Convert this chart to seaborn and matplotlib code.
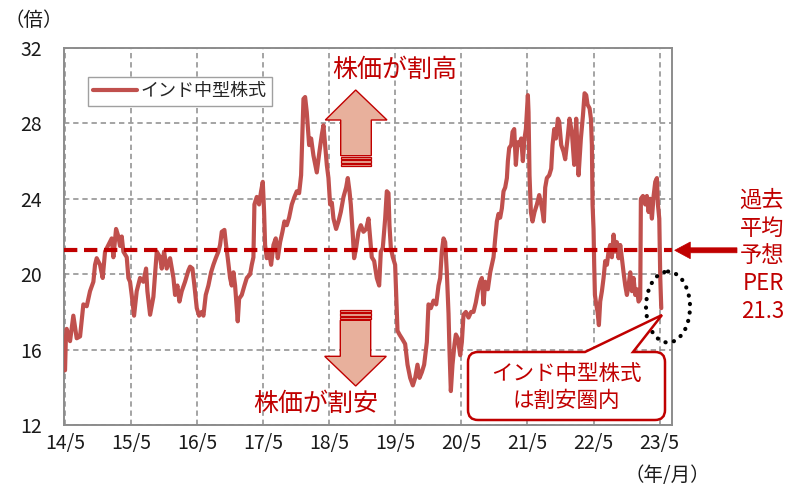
import matplotlib
matplotlib.use("Agg")
import matplotlib.pyplot as plt
import seaborn as sns
import pandas as pd
from matplotlib.patches import Polygon, Rectangle, Ellipse, PathPatch
from matplotlib.path import Path

# months elapsed since 2014/5, and forward PER (times)
months = [
    0.00, 0.15, 0.30, 0.91, 1.51, 2.12, 2.73, 3.33, 3.94, 4.54, 5.15, 5.45, 5.75, 6.36,
    6.84, 7.27, 7.87, 8.48, 8.78, 9.27, 9.69, 9.99, 10.30, 10.60, 11.21, 11.51, 11.81,
    12.11, 12.54, 13.02, 13.63, 14.23, 14.72, 14.96, 15.45, 16.05, 16.66, 17.26, 17.57,
    17.99, 18.47, 19.08, 19.69, 19.99, 20.41, 20.78, 21.20, 21.80, 22.41,
    22.71, 23.14, 23.50, 23.93, 24.35, 24.83, 25.14, 25.56, 26.04, 26.53, 26.95, 27.38,
    27.86, 28.16, 28.47, 28.95, 29.19, 29.56, 29.98, 30.28, 30.59, 30.89, 31.19, 31.37,
    31.62, 32.10, 32.59, 33.01, 33.62, 33.92, 34.22, 34.40, 34.83, 35.25, 35.61, 35.92,
    36.16, 36.34, 36.64, 37.07, 37.43, 37.86, 38.28, 38.64, 39.07, 39.49, 39.85, 40.28,
    40.70, 41.19, 41.67, 42.10, 42.52, 42.88, 43.13, 43.31, 43.61, 43.91, 44.34, 44.70,
    45.12,
    45.73, 46.21, 46.64, 46.94, 47.24, 47.55, 47.85, 48.15, 48.46, 48.76, 49.24, 49.67,
    50.09, 50.58, 51.06, 51.36, 51.67, 51.91, 52.27, 52.51, 52.88, 53.30, 53.73, 54.21,
    54.70, 55.12, 55.42, 55.72, 56.15, 56.63, 57.06, 57.36, 57.72, 58.15, 58.45, 58.75,
    58.93, 59.18, 59.54, 59.96, 60.15, 60.39, 60.75, 61.18, 61.78, 62.21, 62.69, 63.18,
    63.60, 64.02, 64.39, 64.81, 65.23, 65.72, 66.02, 66.45, 66.93, 67.42, 67.84,
    68.14, 68.44, 68.75, 69.05, 69.35, 69.66, 69.84, 70.08, 70.38, 70.75, 70.99, 71.35,
    71.78, 72.08, 72.38, 72.81, 73.29, 73.77, 74.20, 74.62, 74.99, 75.41, 75.71, 76.02,
    76.32, 76.80, 77.23, 77.53, 77.83, 78.14, 78.44, 78.74, 79.04, 79.35, 79.65, 79.95,
    80.26, 80.44, 80.68, 81.04, 81.29, 81.59, 81.89, 82.19, 82.50, 82.86, 83.16, 83.46,
    83.71, 83.89, 84.07, 84.19, 84.37, 84.62, 84.92, 85.28, 85.71, 86.13, 86.50, 86.74,
    86.98, 87.22, 87.52, 87.95, 88.31, 88.55, 88.86, 89.16, 89.52, 89.76, 90.13, 90.55,
    90.85, 91.28, 91.64, 92.07, 92.49, 92.85, 93.28, 93.70, 94.07, 94.37, 94.67, 94.91,
    95.28, 95.52, 95.70, 95.82, 96.00, 96.12, 96.25, 96.49, 96.73, 96.97, 97.21, 97.52,
    97.82, 98.12, 98.43, 98.73, 99.03, 99.33, 99.64, 99.94, 100.24, 100.55, 100.85,
    101.15, 101.45, 101.76, 102.06, 102.36, 102.67, 102.97, 103.27, 103.57, 103.88,
    104.18, 104.48, 104.60, 104.97, 105.39, 105.69, 106.00, 106.30, 106.60, 106.91,
    107.21, 107.51, 107.69, 107.94, 108.12, 108.30,
]
per = [
    14.9, 16.6, 17.1, 16.45, 17.8, 16.6, 16.7, 18.4, 18.3, 19.1, 19.6, 20.5, 20.85, 20.5,
    19.8, 21.2, 21.55, 21.9, 20.9, 22.4, 22.0, 21.5, 22.0, 21.2, 20.9, 19.8, 19.6,
    18.9, 17.8, 19.1, 19.8, 19.6, 20.3, 19.1, 17.85, 18.8, 21.2, 20.9, 20.3,
    21.2, 20.3, 20.85, 19.8, 18.9, 19.4, 18.55, 19.1, 19.6, 20.2,
    20.4, 20.3, 19.4, 18.2, 17.8, 18.0, 17.8, 18.9, 19.4, 20.1, 20.5, 20.85,
    21.2, 21.55, 22.25, 22.35, 21.7, 20.85, 19.8, 19.4, 20.1, 19.4, 18.2, 17.5,
    18.7, 18.9, 19.4, 19.8, 20.0, 20.5, 20.9, 23.7, 24.1, 23.7, 24.4, 24.9,
    23.3, 21.55, 20.85, 21.2, 20.5, 21.55, 21.9, 20.85, 21.7, 22.25, 22.8, 22.6,
    23.0, 23.7, 24.1, 24.4, 24.3, 25.25, 27.7, 29.3, 29.4, 28.6, 26.85, 27.2,
    26.3,
    25.4, 26.5, 27.4, 27.9, 26.9, 25.8, 25.1, 23.7, 23.8, 22.95, 22.4, 22.8,
    23.3, 24.1, 24.6, 25.1, 24.4, 23.7, 22.1, 20.85, 21.4, 22.25, 22.6, 22.25,
    22.4, 22.95, 21.9, 20.9, 20.7, 19.8, 19.4, 21.2, 21.4, 22.95, 24.4, 24.3,
    22.6, 21.4, 20.9, 20.5, 18.9, 17.0, 16.8, 16.6, 16.3, 15.2, 14.5, 14.1,
    14.5, 15.2, 14.5, 14.8, 15.2, 16.4, 18.4, 18.2, 18.6, 18.4, 19.4,
    19.8, 21.2, 21.9, 21.7, 20.1, 17.9, 15.9, 13.8, 15.2, 16.3, 16.8, 16.6,
    15.7, 16.4, 17.85, 18.0, 17.7, 18.0, 18.0, 18.5, 19.1, 19.6, 19.8, 18.4,
    19.6, 19.2, 20.1, 20.5, 20.9, 21.9, 22.8, 23.2, 23.0, 23.5, 24.4, 24.6,
    25.1, 26.0, 26.7, 26.85, 27.55, 27.7, 25.8, 27.0, 26.85, 27.2, 26.0, 27.2,
    27.7, 28.6, 29.5, 28.6, 25.25, 23.3, 22.8, 23.3, 23.7, 24.2, 23.7, 23.3,
    22.8, 24.6, 25.1, 25.25, 25.6, 26.85, 27.7, 27.2, 28.25, 28.1, 26.85, 26.5,
    26.1, 27.2, 28.25, 27.5, 25.8, 28.25, 25.25, 27.2, 28.4, 29.6, 29.5, 29.0,
    28.8, 28.25, 26.85, 23.7, 22.4, 20.5, 18.9, 18.4, 18.0, 17.3, 18.55, 19.1,
    19.8, 20.7, 20.5, 21.2, 21.55, 20.9, 22.1, 21.2, 21.7, 20.85, 21.55,
    20.85, 20.1, 19.4, 18.9, 19.4, 20.1, 19.1, 19.8, 18.9, 19.2,
    18.55, 18.7, 24.0, 24.15, 23.7, 24.15, 23.3, 24.0, 22.95, 24.15,
    24.9, 25.1, 23.7, 22.95, 19.8, 18.2,
]
tick_months = [0, 12, 24, 36, 48, 60, 72, 84, 96, 108]
tick_labels = ["14/5", "15/5", "16/5", "17/5", "18/5", "19/5", "20/5", "21/5", "22/5", "23/5"]
avg_per = 21.3

RED = "#C00000"
LINE = "#C0504D"
ARROW_FILL = "#E8B09C"

sns.set_style("white")
plt.rcParams["font.family"] = ["Noto Sans CJK JP", "DejaVu Sans"]

df = pd.DataFrame({"month": months, "per": per})

fig = plt.figure(figsize=(7.99, 4.87), dpi=100)
ax = fig.add_axes([0.0807, 0.1273, 0.7600, 0.7741])

sns.lineplot(data=df, x="month", y="per", ax=ax, color=LINE, lw=3.0,
             estimator=None, label="インド中型株式", zorder=3)
ax.axhline(avg_per, color=RED, lw=3, linestyle=(0, (3.2, 1.6)), zorder=4)

ax.set_xlim(-0.1, 110.2)
ax.set_ylim(12, 32)
ax.set_yticks([12, 16, 20, 24, 28, 32])
ax.set_xticks(tick_months)
ax.set_xticklabels(tick_labels)
ax.set_xlabel("")
ax.set_ylabel("")
ax.tick_params(axis="both", length=0, labelsize=14, colors="#1a1a1a")
ax.tick_params(axis="y", pad=16)
ax.tick_params(axis="x", pad=6)
ax.grid(True, color="#8C8C8C", lw=1.1, linestyle=(0, (3.5, 2.5)))
for s in ax.spines.values():
    s.set_color("#8C8C8C")
    s.set_linewidth(1.4)

leg = ax.legend(loc="upper left", bbox_to_anchor=(0.0387, 0.923), borderaxespad=0,
                fontsize=13, handlelength=2.4, handletextpad=0.2,
                fancybox=False, framealpha=1, edgecolor="#A0A0A0",
                borderpad=0.3)
leg.get_frame().set_linewidth(1.0)

# overlay in pixel coordinates for annotations
ov = fig.add_axes([0, 0, 1, 1], zorder=5)
ov.set_xlim(0, 799)
ov.set_ylim(487, 0)
ov.axis("off")

ov.text(34, 20, "（倍）", ha="center", va="center", fontsize=14, color="#1a1a1a")
ov.text(667, 475, "（年/月）", ha="center", va="center", fontsize=14, color="#1a1a1a")

ov.text(395, 70, "株価が割高", ha="center", va="center", fontsize=18, color=RED)
ov.text(316, 404, "株価が割安", ha="center", va="center", fontsize=18, color=RED)

for txt, y in zip(["過去", "平均", "予想", "PER", "21.3"], [200, 228, 256, 284, 312]):
    ov.text(784, y, txt, ha="right", va="center", fontsize=16, color=RED)

# up arrow
up = [(355.7, 90), (387, 120), (371.3, 120), (371.3, 155.7), (340.7, 155.7),
      (340.7, 120), (325.3, 120)]
ov.add_patch(Polygon(up, closed=True, fc=ARROW_FILL, ec=RED, lw=1.0))
for y0, h in [(156.9, 2.0), (160.2, 2.3), (163.8, 2.3)]:
    ov.add_patch(Rectangle((340.7, y0), 30.6, h, fc=ARROW_FILL, ec=RED, lw=0.9))

# down arrow
down = [(355.7, 386), (386.3, 356.3), (370.7, 356.3), (370.7, 320.3), (340.3, 320.3),
        (340.3, 356.3), (324.7, 356.3)]
ov.add_patch(Polygon(down, closed=True, fc=ARROW_FILL, ec=RED, lw=1.0))
for y0, h in [(316.9, 2.0), (313.3, 2.3), (309.7, 2.3)]:
    ov.add_patch(Rectangle((340.3, y0), 30.4, h, fc=ARROW_FILL, ec=RED, lw=0.9))

# right arrow pointing at the average line
right = [(674.7, 250.3), (690.3, 242), (690.3, 247.8), (737, 247.8), (737, 252.8),
         (690.3, 252.8), (690.3, 258.7)]
ov.add_patch(Polygon(right, closed=True, fc=RED, ec=RED, lw=0.5))

# dotted ellipse on the latest value
ov.add_patch(Ellipse((668, 307), 44, 71, fill=False, ec="black", lw=3,
                     linestyle=(0, (0.05, 2.0)), capstyle="round"))

# callout box with tail
x0, x1, y0, y1, r = 468, 665, 352, 420, 10
verts = [(x0 + r, y0), (585, y0), (662, 315), (633, y0), (x1 - r, y0),
         (x1, y0), (x1, y0 + r), (x1, y1 - r), (x1, y1), (x1 - r, y1),
         (x0 + r, y1), (x0, y1), (x0, y1 - r), (x0, y0 + r), (x0, y0), (x0 + r, y0),
         (x0 + r, y0)]
codes = [Path.MOVETO, Path.LINETO, Path.LINETO, Path.LINETO, Path.LINETO,
         Path.CURVE3, Path.CURVE3, Path.LINETO, Path.CURVE3, Path.CURVE3,
         Path.LINETO, Path.CURVE3, Path.CURVE3, Path.LINETO, Path.CURVE3, Path.CURVE3,
         Path.CLOSEPOLY]
ov.add_patch(PathPatch(Path(verts, codes), fc="white", ec=RED, lw=1.8))
ov.text(566, 374, "インド中型株式", ha="center", va="center", fontsize=15.5, color=RED)
ov.text(566, 401, "は割安圏内", ha="center", va="center", fontsize=15.5, color=RED)

fig.savefig("out.png", dpi=100)
plt.close(fig)
